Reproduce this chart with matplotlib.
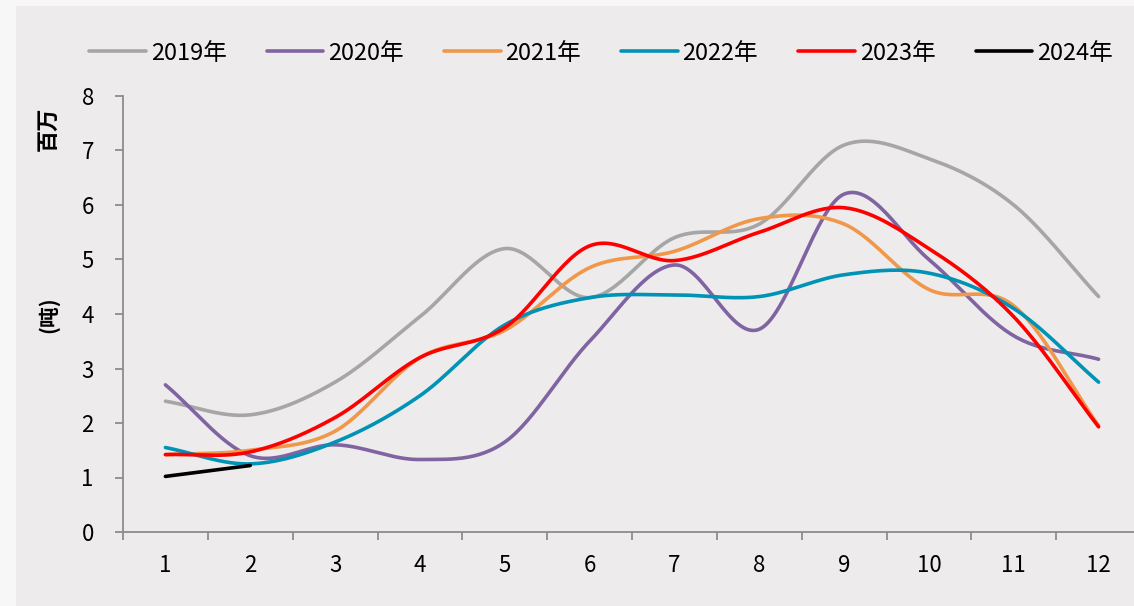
import numpy as np
import matplotlib
matplotlib.use("Agg")
import matplotlib.pyplot as plt
from matplotlib.patches import Rectangle

plt.rcParams['font.family'] = ['Noto Sans CJK SC', 'DejaVu Sans']

months = [1, 2, 3, 4, 5, 6, 7, 8, 9, 10, 11, 12]
y2019 = [2.40, 2.15, 2.75, 3.95, 5.20, 4.30, 5.40, 5.65, 7.10, 6.85, 6.00, 4.32]
y2020 = [2.70, 1.40, 1.60, 1.33, 1.65, 3.50, 4.90, 3.72, 6.20, 5.00, 3.60, 3.17]
y2021 = [1.42, 1.50, 1.85, 3.20, 3.70, 4.85, 5.15, 5.75, 5.65, 4.45, 4.15, 1.95]
y2022 = [1.55, 1.25, 1.65, 2.50, 3.80, 4.30, 4.35, 4.32, 4.72, 4.75, 4.10, 2.75]
y2023 = [1.42, 1.47, 2.10, 3.20, 3.75, 5.25, 4.98, 5.50, 5.95, 5.20, 3.95, 1.93]
y2024 = [1.02, 1.22]

series = [
    ("2019年", y2019, "#A6A6A6"),
    ("2020年", y2020, "#8064A2"),
    ("2021年", y2021, "#F0974A"),
    ("2022年", y2022, "#0093B6"),
    ("2023年", y2023, "#FF0000"),
    ("2024年", y2024, "#000000"),
]


def smooth(x, y, n=30):
    # catmull-rom, roughly what excel does for "smoothed line"
    x = np.asarray(x, float)
    y = np.asarray(y, float)
    if len(x) < 3:
        return x, y
    px = np.concatenate([[2 * x[0] - x[1]], x, [2 * x[-1] - x[-2]]])
    py = np.concatenate([[2 * y[0] - y[1]], y, [2 * y[-1] - y[-2]]])
    xs, ys = [], []
    t = np.linspace(0, 1, n, endpoint=False)
    for i in range(1, len(px) - 2):
        for p, out in ((px, xs), (py, ys)):
            p0, p1, p2, p3 = p[i - 1], p[i], p[i + 1], p[i + 2]
            out.extend(0.5 * (2 * p1 + (-p0 + p2) * t
                              + (2 * p0 - 5 * p1 + 4 * p2 - p3) * t ** 2
                              + (-p0 + 3 * p1 - 3 * p2 + p3) * t ** 3))
    xs.append(x[-1])
    ys.append(y[-1])
    return np.array(xs), np.array(ys)


fig = plt.figure(figsize=(11.34, 6.06), dpi=100, facecolor="#F7F7F7")
fig.patches.append(Rectangle((16 / 1134, 0), 1, 600 / 606, transform=fig.transFigure,
                             facecolor="#EDEBEC", edgecolor="none", zorder=-10))

ax = fig.add_axes([123 / 1134, 74 / 606, 1018 / 1134, 436 / 606])
ax.set_facecolor("none")

for label, vals, col in series:
    sx, sy = smooth(months[:len(vals)], vals)
    ax.plot(sx, sy, color=col, lw=2.6, label=label, solid_capstyle="round")

ax.set_xlim(0.5, 12.5)
ax.set_ylim(0, 8)
ax.set_yticks(range(0, 9))
ax.set_xticks(months)
ax.set_xticks(np.arange(0.5, 13, 1), minor=True)

for s in ("top", "right"):
    ax.spines[s].set_visible(False)
for s in ("left", "bottom"):
    ax.spines[s].set_color("#8C8C8C")
    ax.spines[s].set_linewidth(1.3)

ax.tick_params(axis="y", direction="out", length=6, width=1.3, color="#8C8C8C",
               labelsize=16, pad=15)
ax.tick_params(axis="x", which="major", length=0, labelsize=16, pad=16)
ax.tick_params(axis="x", which="minor", direction="out", length=6, width=1.3, color="#8C8C8C")

fig.text(48 / 1134, 1 - 129 / 606, "百万", rotation=90, fontsize=16, fontweight="bold",
         ha="center", va="center")
fig.text(48 / 1134, 1 - 315 / 606, "(吨)", rotation=90, fontsize=15, fontweight="bold",
         ha="center", va="center")

fig.legend(loc="center", bbox_to_anchor=(601 / 1134, 1 - 53 / 606), ncol=6, frameon=False,
           fontsize=17, handlelength=2.4, handletextpad=0.2, columnspacing=1.7)

fig.savefig("out.png", dpi=100, facecolor=fig.get_facecolor())
